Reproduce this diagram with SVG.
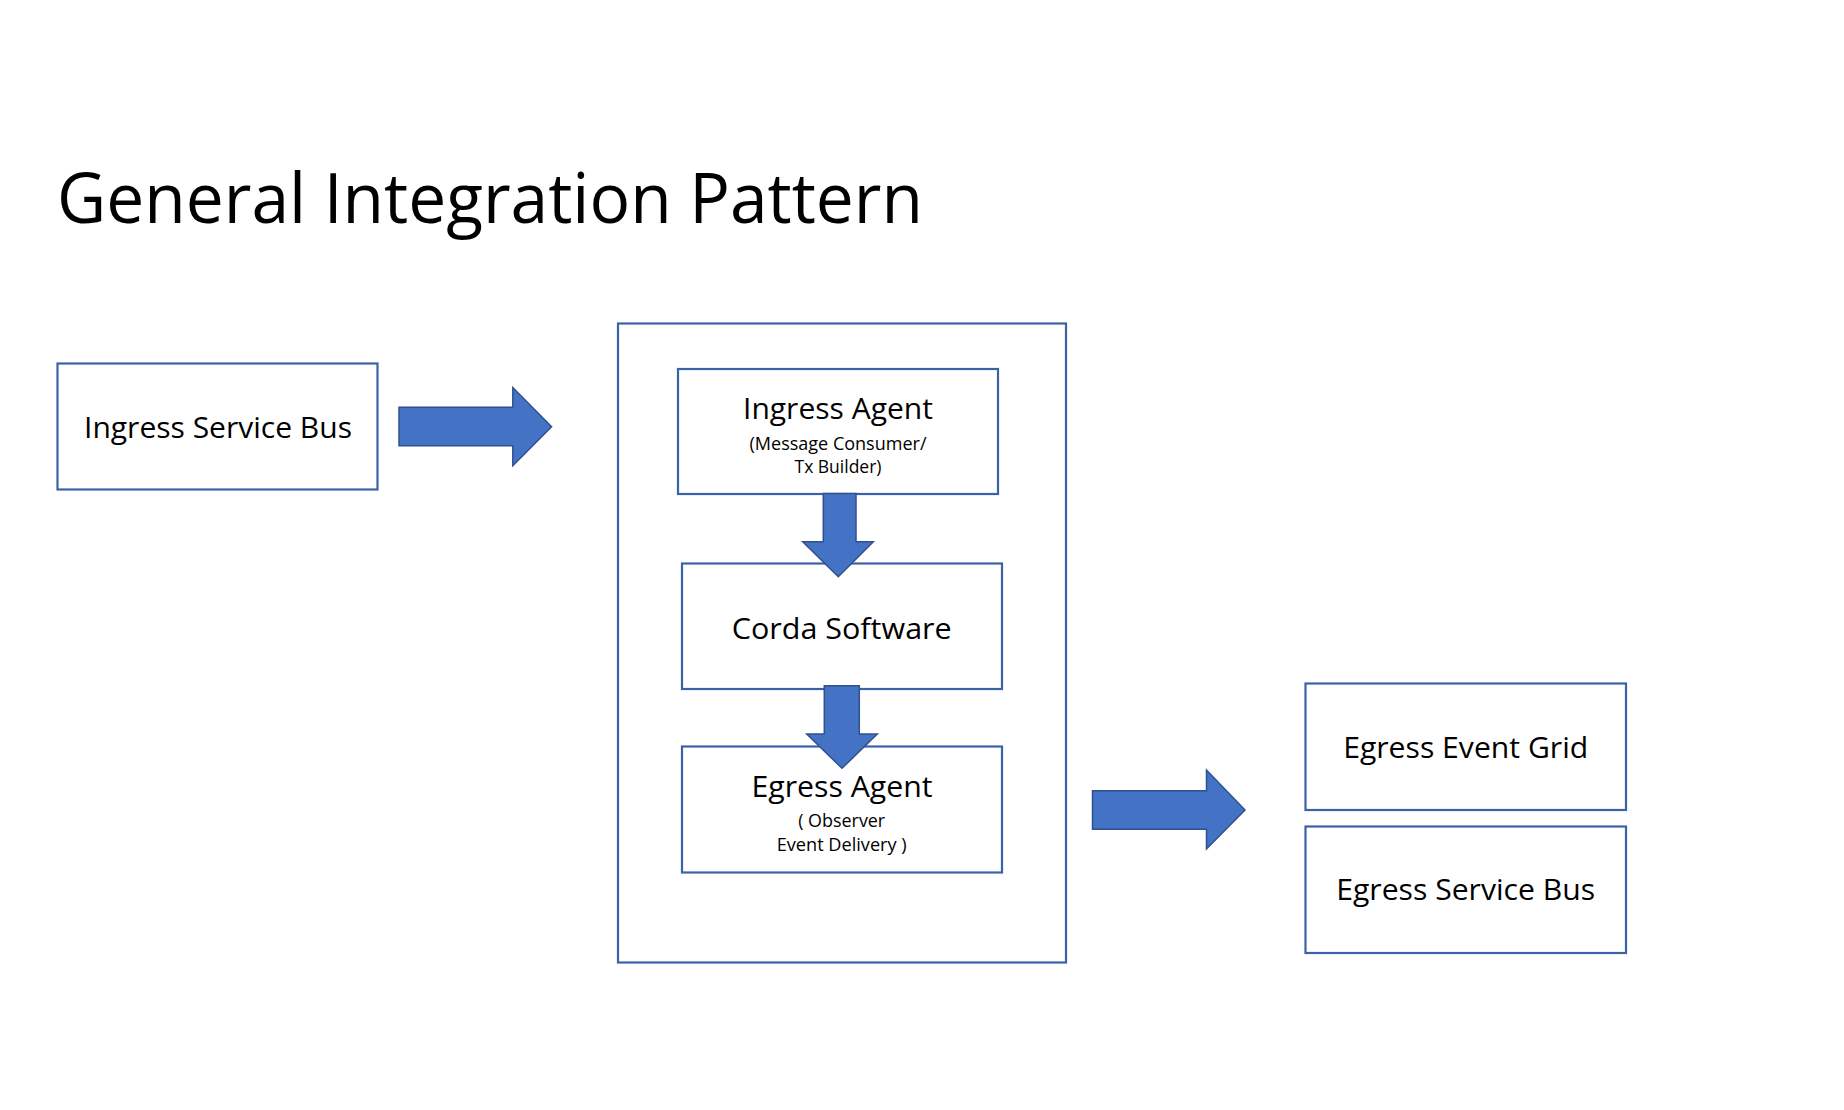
<svg xmlns="http://www.w3.org/2000/svg" width="1844" height="1110" viewBox="0 0 1844 1110">
<style>
.box{fill:#ffffff;stroke:#3A62A8;stroke-width:2.2}
.arr{fill:#4472C4;stroke:#2F528F;stroke-width:1.5;stroke-linejoin:miter}
text{font-family:"Open Sans","Liberation Sans",sans-serif;fill:#000000;text-anchor:middle}
.lbl{font-size:30px}
.sub{font-size:18px}
.title{font-size:70px;text-anchor:start}
</style>
<rect width="1844" height="1110" fill="#ffffff"/>
<text class="title" x="57" y="223" textLength="866" lengthAdjust="spacingAndGlyphs">General Integration Pattern</text>
<g id="container">
<rect class="box" x="618" y="323.5" width="448" height="639"/>
</g>
<g id="ingress-service-bus">
<rect class="box" x="57.5" y="363.5" width="320" height="126"/>
<text class="lbl" x="218" y="437.5" textLength="268" lengthAdjust="spacingAndGlyphs">Ingress Service Bus</text>
</g>
<g id="ingress-agent">
<rect class="box" x="678" y="369" width="320" height="125"/>
<text class="lbl" x="838" y="418.5" textLength="190" lengthAdjust="spacingAndGlyphs">Ingress Agent</text>
<text class="sub" x="838" y="449.5" textLength="177" lengthAdjust="spacingAndGlyphs">(Message Consumer/</text>
<text class="sub" x="838" y="472.5" textLength="87" lengthAdjust="spacingAndGlyphs">Tx Builder)</text>
</g>
<g id="corda-software">
<rect class="box" x="682" y="563.5" width="320" height="125.5"/>
<text class="lbl" x="841.7" y="638.5" textLength="220" lengthAdjust="spacingAndGlyphs">Corda Software</text>
</g>
<g id="egress-agent">
<rect class="box" x="682" y="746.5" width="320" height="126"/>
<text class="lbl" x="842" y="796.7" textLength="181" lengthAdjust="spacingAndGlyphs">Egress Agent</text>
<text class="sub" x="841.7" y="827.3" textLength="87" lengthAdjust="spacingAndGlyphs">( Observer</text>
<text class="sub" x="841.7" y="850.7" textLength="130" lengthAdjust="spacingAndGlyphs">Event Delivery )</text>
</g>
<g id="egress-event-grid">
<rect class="box" x="1305.5" y="683.5" width="320.5" height="126.5"/>
<text class="lbl" x="1465.7" y="758.3" textLength="245" lengthAdjust="spacingAndGlyphs">Egress Event Grid</text>
</g>
<g id="egress-service-bus">
<rect class="box" x="1305.5" y="826.5" width="320.5" height="126.5"/>
<text class="lbl" x="1465.7" y="900" textLength="259" lengthAdjust="spacingAndGlyphs">Egress Service Bus</text>
</g>
<g id="connectors">
<polygon class="arr" points="399,407.3 512.8,407.3 512.8,387.5 551.6,426.7 512.8,465.7 512.8,445.7 399,445.7"/>
<polygon class="arr" points="823.3,493.5 856,493.5 856,541.7 873.3,541.7 838.3,576.7 802.7,541.7 823.3,541.7"/>
<polygon class="arr" points="824.3,685.7 859.3,685.7 859.3,734 877.3,734 842,768.3 806.7,734 824.3,734"/>
<polygon class="arr" points="1092.5,790.7 1206.5,790.7 1206.5,770 1245,810 1206.5,849 1206.5,829.3 1092.5,829.3"/>
</g>
</svg>
